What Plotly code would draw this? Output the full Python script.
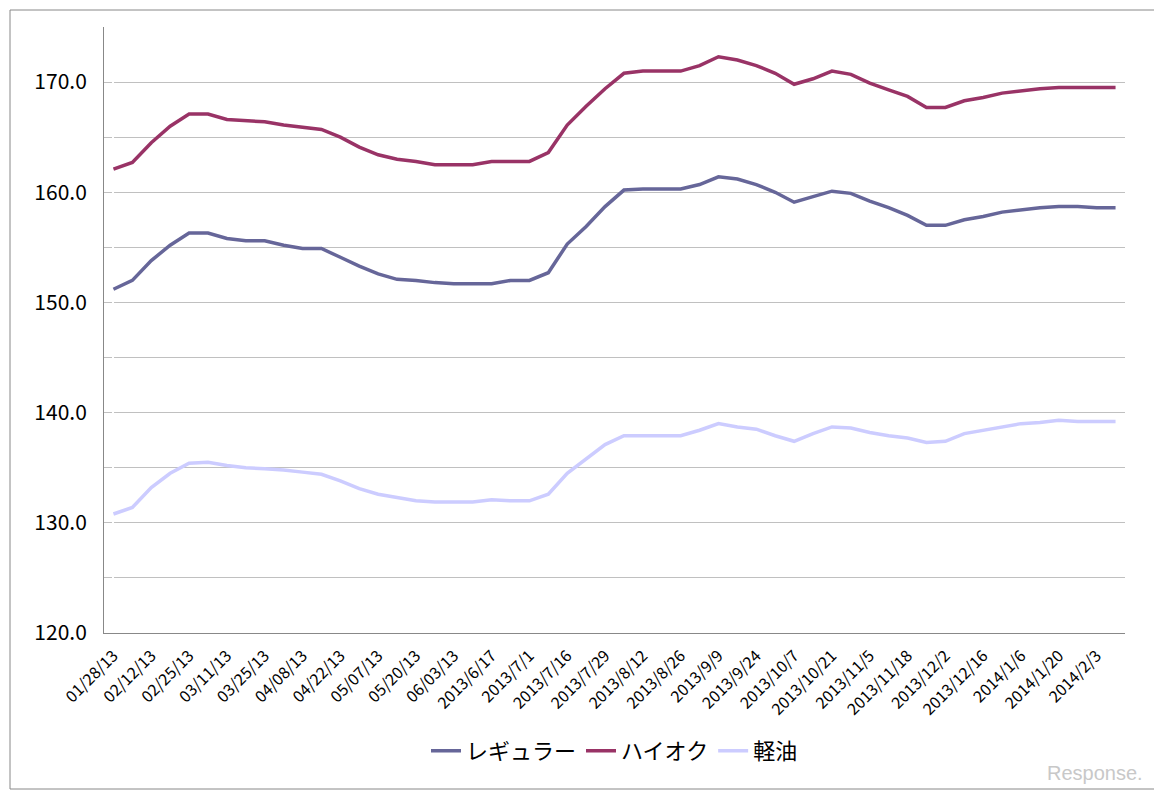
import plotly.graph_objects as go

# weekly prices, 54 weeks from 2013-01-28
regular = [151.2, 152.0, 153.8, 155.2, 156.3, 156.3, 155.8, 155.6, 155.6, 155.2,
           154.9, 154.9, 154.1, 153.3, 152.6, 152.1, 152.0, 151.8, 151.7, 151.7,
           151.7, 152.0, 152.0, 152.7, 155.3, 156.9, 158.7, 160.2, 160.3, 160.3,
           160.3, 160.7, 161.4, 161.2, 160.7, 160.0, 159.1, 159.6, 160.1, 159.9,
           159.2, 158.6, 157.9, 157.0, 157.0, 157.5, 157.8, 158.2, 158.4, 158.6,
           158.7, 158.7, 158.6, 158.6]
high_octane = [162.1, 162.7, 164.5, 166.0, 167.1, 167.1, 166.6, 166.5, 166.4, 166.1,
               165.9, 165.7, 165.0, 164.1, 163.4, 163.0, 162.8, 162.5, 162.5, 162.5,
               162.8, 162.8, 162.8, 163.6, 166.1, 167.8, 169.4, 170.8, 171.0, 171.0,
               171.0, 171.5, 172.3, 172.0, 171.5, 170.8, 169.8, 170.3, 171.0, 170.7,
               169.9, 169.3, 168.7, 167.7, 167.7, 168.3, 168.6, 169.0, 169.2, 169.4,
               169.5, 169.5, 169.5, 169.5]
diesel = [130.8, 131.4, 133.2, 134.5, 135.4, 135.5, 135.2, 135.0, 134.9, 134.8,
          134.6, 134.4, 133.8, 133.1, 132.6, 132.3, 132.0, 131.9, 131.9, 131.9,
          132.1, 132.0, 132.0, 132.6, 134.5, 135.8, 137.1, 137.9, 137.9, 137.9,
          137.9, 138.4, 139.0, 138.7, 138.5, 137.9, 137.4, 138.1, 138.7, 138.6,
          138.2, 137.9, 137.7, 137.3, 137.4, 138.1, 138.4, 138.7, 139.0, 139.1,
          139.3, 139.2, 139.2, 139.2]
tick_labels = ["01/28/13", "02/12/13", "02/25/13", "03/11/13", "03/25/13", "04/08/13",
               "04/22/13", "05/07/13", "05/20/13", "06/03/13", "2013/6/17", "2013/7/1",
               "2013/7/16", "2013/7/29", "2013/8/12", "2013/8/26", "2013/9/9",
               "2013/9/24", "2013/10/7", "2013/10/21", "2013/11/5", "2013/11/18",
               "2013/12/2", "2013/12/16", "2014/1/6", "2014/1/20", "2014/2/3"]
y_ticks = [120, 125, 130, 135, 140, 145, 150, 155, 160, 165, 170, 175]

FONT = "Noto Sans CJK JP"
weeks = list(range(len(regular)))

fig = go.Figure()
for name, vals, color in [("レギュラー", regular, "#666699"),
                          ("ハイオク", high_octane, "#993366"),
                          ("軽油", diesel, "#CCCCFF")]:
    fig.add_trace(go.Scatter(x=weeks, y=vals, mode="lines", name=name,
                             line=dict(color=color, width=3.5)))

fig.update_layout(
    width=1162, height=795,
    margin=dict(l=96, r=45, t=19, b=170),
    plot_bgcolor="white", paper_bgcolor="white",
    font=dict(family=FONT, color="black"),
    showlegend=True,
    legend=dict(orientation="h", x=0.5, xanchor="center", y=-0.16, yanchor="top",
                font=dict(size=22, family=FONT)),
    xaxis=dict(range=[-0.5, len(regular) - 0.5], tickvals=weeks[::2][:len(tick_labels)],
               ticktext=tick_labels, tickangle=-45, tickfont=dict(size=16),
               showgrid=False, showline=True, linecolor="#888888",
               ticks="outside", ticklen=6, tickcolor="rgba(0,0,0,0)"),
    yaxis=dict(range=[120, 175], tickvals=y_ticks,
               ticktext=[f"{v:.1f}" if v % 10 == 0 else "" for v in y_ticks],
               tickfont=dict(size=21), showgrid=True, gridcolor="#c0c0c0",
               showline=True, linecolor="#888888", zeroline=False,
               ticks="outside", ticklen=12, tickcolor="rgba(0,0,0,0)"),
    shapes=[dict(type="rect", xref="paper", yref="paper", x0=-94 / 1021, x1=1 + 34 / 1021,
                 y0=-156 / 606, y1=1 + 17 / 606, line=dict(color="#888888", width=1))],
    annotations=[dict(text="Response.", xref="paper", yref="paper", x=1.02, y=-0.21,
                      xanchor="right", yanchor="top", showarrow=False,
                      font=dict(size=20, color="#c8c8c8", family="Liberation Sans"))],
)

fig.write_html("out.html")
